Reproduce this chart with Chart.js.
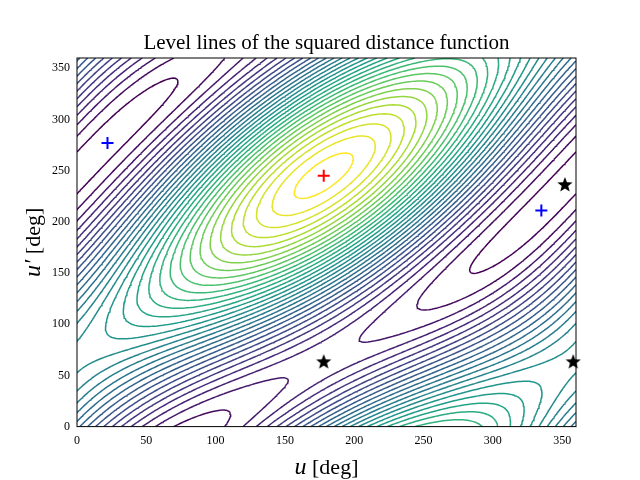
<!DOCTYPE html>
<html><head><meta charset="utf-8">
<script src="https://cdn.jsdelivr.net/npm/chart.js@4"></script>
<style>body{margin:0;background:#fff}#c{width:640px;height:480px}</style>
</head><body><canvas id="c" width="640" height="480"></canvas>
<script>
// field model parameters (amplitudes and phase offsets, degrees)
const fieldAmp = [1.0, 0.42, 0.30];
const fieldPhase = [67, 178, 245];
const nLevels = 32;
const xTicks = [0,50,100,150,200,250,300,350];
const yTicks = [0,50,100,150,200,250,300,350];
const redPlus = [[178,245]];
const bluePlus = [[22,277],[335,211]];
const blackStars = [[178,63],[352,236],[358,63]];

const R = Math.PI/180;
function f(u,v){return fieldAmp[0]*Math.cos((u-v+fieldPhase[0])*R)+fieldAmp[1]*Math.cos((u-fieldPhase[1])*R)+fieldAmp[2]*Math.cos((v-fieldPhase[2])*R);}
const step=2, N=360/step;
const G=[];let mn=1e9,mx=-1e9;
for(let i=0;i<=N;i++){G.push([]);for(let j=0;j<=N;j++){const z=f(i*step,j*step);G[i].push(z);mn=Math.min(mn,z);mx=Math.max(mx,z);}}
function viridis(t){const s=[[68,1,84],[72,40,120],[62,74,137],[49,104,142],[38,130,142],[31,158,137],[53,183,121],[109,205,89],[180,222,44],[253,231,37]];
 const p=t*(s.length-1),k=Math.min(Math.floor(p),s.length-2),a=p-k;const c=s[k].map((x,q)=>Math.round(x+(s[k+1][q]-x)*a));return `rgb(${c})`;}
const datasets=[];
for(let l=0;l<nLevels;l++){
 const lv=mn+(mx-mn)*(l+0.5)/nLevels;const pts=[];
 for(let i=0;i<N;i++)for(let j=0;j<N;j++){
  const c=[[i,j],[i+1,j],[i+1,j+1],[i,j+1]];const cr=[];
  for(let e=0;e<4;e++){const A=c[e],B=c[(e+1)%4];const za=G[A[0]][A[1]],zb=G[B[0]][B[1]];
   if((za<lv)!==(zb<lv)){const t=(lv-za)/(zb-za);cr.push({x:(A[0]+(B[0]-A[0])*t)*step,y:(A[1]+(B[1]-A[1])*t)*step});}}
  for(let k=0;k+1<cr.length;k+=2){pts.push(cr[k],cr[k+1],{x:NaN,y:NaN});}
 }
 datasets.push({type:'scatter',data:pts,showLine:true,spanGaps:false,pointRadius:0,borderColor:viridis(l/(nLevels-1)),borderWidth:1.5});
}
function starImg(){const cv=document.createElement('canvas');cv.width=cv.height=18;const x=cv.getContext('2d');x.fillStyle='#000';x.beginPath();
 for(let k=0;k<10;k++){const r=k%2?3.4:8,a=-Math.PI/2+k*Math.PI/5;x.lineTo(9+r*Math.cos(a),9+r*Math.sin(a));}x.closePath();x.fill();return cv;}
const mk=(arr)=>arr.map(p=>({x:p[0],y:p[1]}));
datasets.push({type:'scatter',data:mk(blackStars),pointStyle:starImg(),pointRadius:9,clip:false});
datasets.push({type:'scatter',data:mk(bluePlus),pointStyle:'cross',pointRadius:6,borderColor:'#0000ff',borderWidth:2,clip:false});
datasets.push({type:'scatter',data:mk(redPlus),pointStyle:'cross',pointRadius:6,borderColor:'#ff0000',borderWidth:2,clip:false});
const deco={id:'deco',afterDraw(ch){const x=ch.ctx,a=ch.chartArea;x.save();x.strokeStyle='#000';x.lineWidth=1;x.strokeRect(a.left,a.top,a.right-a.left,a.bottom-a.top);
 x.fillStyle='#000';x.textBaseline='alphabetic';x.textAlign='center';x.font='21px "Liberation Serif"';x.fillText('Level lines of the squared distance function',(a.left+a.right)/2,49);
 const cx=(a.left+a.right)/2;x.font='italic 24px "Liberation Serif"';const w1=x.measureText('u').width;x.font='22px "Liberation Serif"';const w2=x.measureText(' [deg]').width;
 let sx=cx-(w1+w2)/2;x.textAlign='left';x.font='italic 24px "Liberation Serif"';x.fillText('u',sx,474);x.font='22px "Liberation Serif"';x.fillText(' [deg]',sx+w1,474);
 x.translate(40,(a.top+a.bottom)/2);x.rotate(-Math.PI/2);x.font='italic 24px "Liberation Serif"';const v1=x.measureText('u′').width;x.font='22px "Liberation Serif"';
 sx=-(v1+w2)/2;x.font='italic 24px "Liberation Serif"';x.fillText('u′',sx,0);x.font='22px "Liberation Serif"';x.fillText(' [deg]',sx+v1,0);x.restore();}};
const tk={font:{family:'Liberation Serif',size:12},color:'#000'};
new Chart(document.getElementById('c'),{type:'scatter',data:{datasets},plugins:[deco],
 options:{responsive:false,animation:false,events:[],layout:{padding:{left:49,right:64,top:58,bottom:29}},
 plugins:{legend:{display:false},tooltip:{enabled:false}},
 scales:{x:{type:'linear',min:0,max:360,afterBuildTicks:s=>{s.ticks=xTicks.map(v=>({value:v}))},grid:{display:false,drawTicks:true,tickLength:4},border:{display:false},ticks:{...tk,maxRotation:0}},
 y:{type:'linear',min:0,max:360,afterBuildTicks:s=>{s.ticks=yTicks.map(v=>({value:v}))},grid:{display:false,tickLength:4},border:{display:false},ticks:tk}}}});
</script></body></html>
